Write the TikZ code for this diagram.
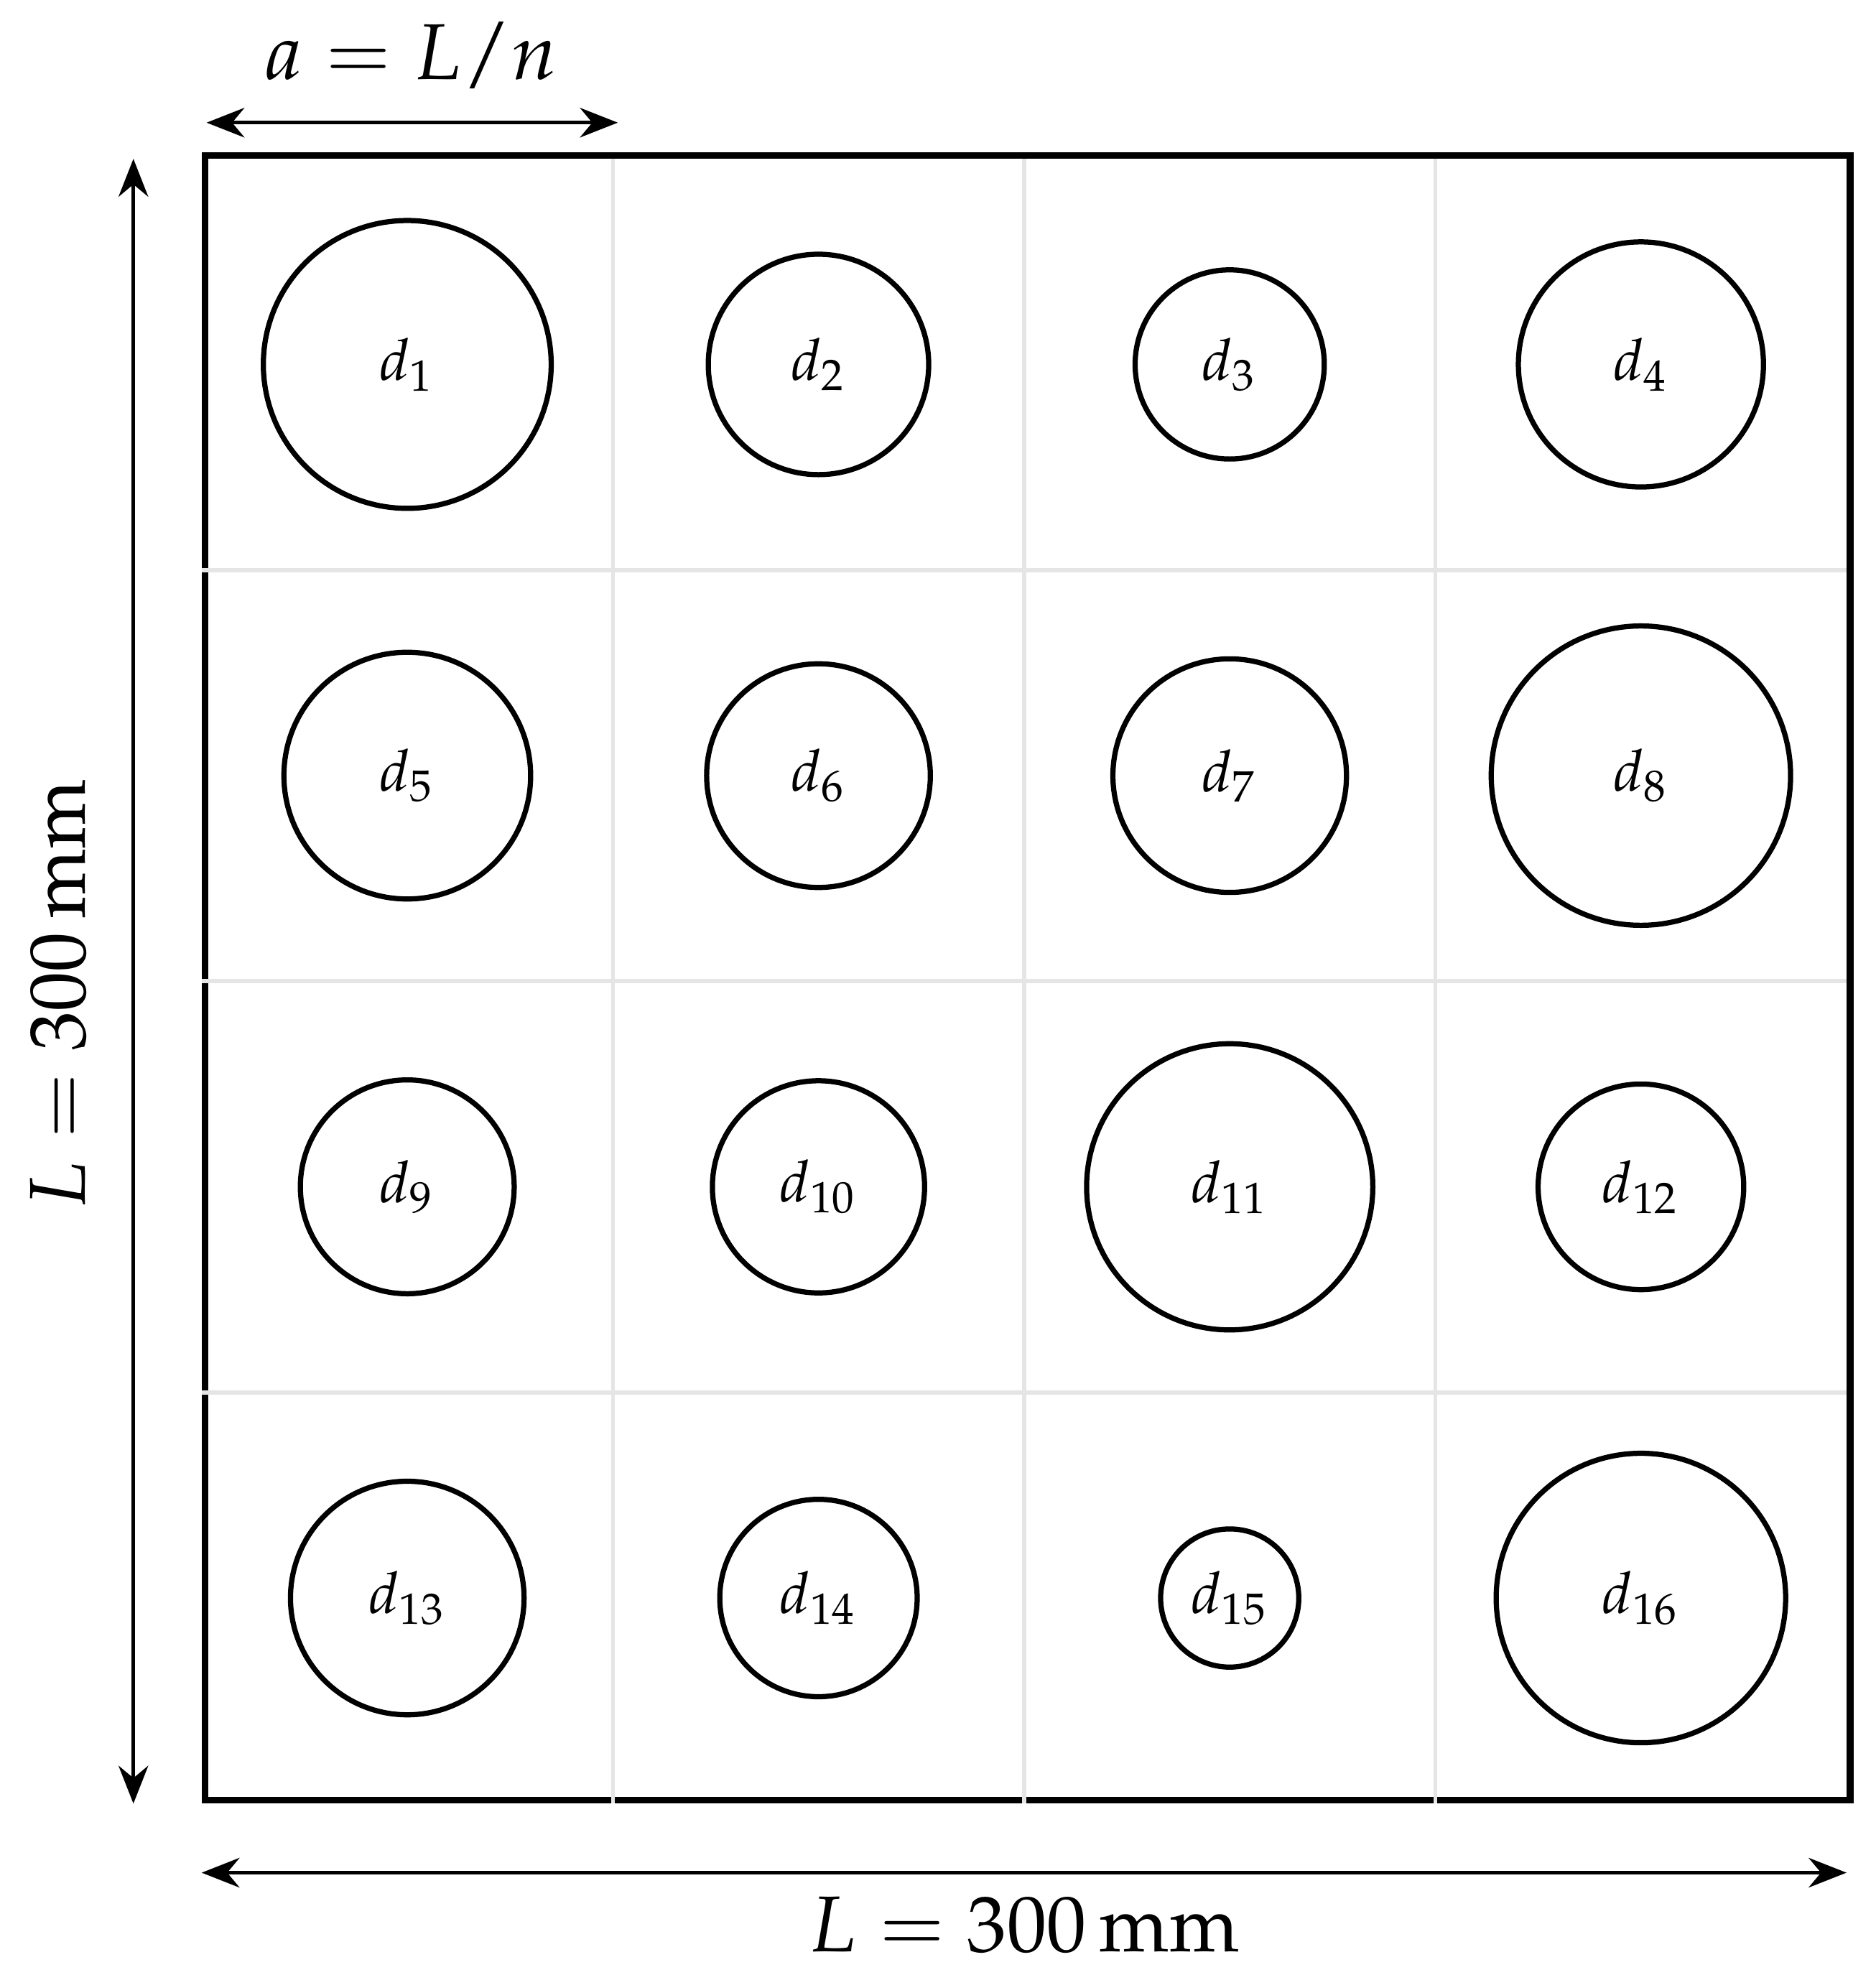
\documentclass[tikz,border=0pt]{standalone}
\usepackage{mathpazo}
\usetikzlibrary{arrows.meta}
\tikzset{
    plate/.style={draw, line width=1.2pt, minimum size=10cm, inner sep=0pt},
    cellline/.style={draw=gray!20, line width=0.7pt},
    grain/.style={circle, draw, line width=0.9pt, inner sep=0pt, font=\normalsize},
    dimline/.style={{Stealth[length=2.3mm,width=1.8mm]}-{Stealth[length=2.3mm,width=1.8mm]}, line width=0.65pt},
    dimlabel/.style={font=\fontsize{13.7}{16}\selectfont, inner sep=0pt}
}

\begin{document}
\begin{tikzpicture}
\useasboundingbox (-1.226,-1.042) rectangle (10.176,10.966);

% plate and cells
\node[plate, anchor=south west] (plate) at (0,0) {};
\draw[cellline] (2.5,0) -- (2.5,10) (5,0) -- (5,10) (7.5,0) -- (7.5,10)
                (0,2.5) -- (10,2.5) (0,5) -- (10,5) (0,7.5) -- (10,7.5);

% grains
\node[grain, minimum size=17.5mm] (d1) at (1.25,8.75) {$d_{1}$};
\node[grain, minimum size=13.4mm] (d2) at (3.75,8.75) {$d_{2}$};
\node[grain, minimum size=11.5mm] (d3) at (6.25,8.75) {$d_{3}$};
\node[grain, minimum size=14.9mm] (d4) at (8.75,8.75) {$d_{4}$};
\node[grain, minimum size=15.0mm] (d5) at (1.25,6.25) {$d_{5}$};
\node[grain, minimum size=13.6mm] (d6) at (3.75,6.25) {$d_{6}$};
\node[grain, minimum size=14.2mm] (d7) at (6.25,6.25) {$d_{7}$};
\node[grain, minimum size=18.2mm] (d8) at (8.75,6.25) {$d_{8}$};
\node[grain, minimum size=13.0mm] (d9) at (1.25,3.75) {$d_{9}$};
\node[grain, minimum size=12.9mm] (d10) at (3.75,3.75) {$d_{10}$};
\node[grain, minimum size=17.4mm] (d11) at (6.25,3.75) {$d_{11}$};
\node[grain, minimum size=12.5mm] (d12) at (8.75,3.75) {$d_{12}$};
\node[grain, minimum size=14.2mm] (d13) at (1.25,1.25) {$d_{13}$};
\node[grain, minimum size=12.0mm] (d14) at (3.75,1.25) {$d_{14}$};
\node[grain, minimum size=8.4mm] (d15) at (6.25,1.25) {$d_{15}$};
\node[grain, minimum size=17.6mm] (d16) at (8.75,1.25) {$d_{16}$};

% dimensions
\coordinate (top0) at (0.03,10.22);
\coordinate (top1) at (2.53,10.22);
\coordinate (lft0) at (-0.415,0);
\coordinate (lft1) at (-0.415,10);
\coordinate (bot0) at (0,-0.42);
\coordinate (bot1) at (10,-0.42);
\draw[dimline] (top0) -- (top1);
\draw[dimline] (lft0) -- (lft1);
\draw[dimline] (bot0) -- (bot1);

\node[dimlabel, anchor=base] (alabel) at (1.275,10.483) {$a = L/n$};
\node[dimlabel, anchor=base, rotate=90] (llabel) at (-0.71,4.92) {$L = 300\,\mathrm{mm}$};
\node[dimlabel, anchor=base] (blabel) at (5,-0.9) {$L = 300\,\mathrm{mm}$};
\end{tikzpicture}
\end{document}
